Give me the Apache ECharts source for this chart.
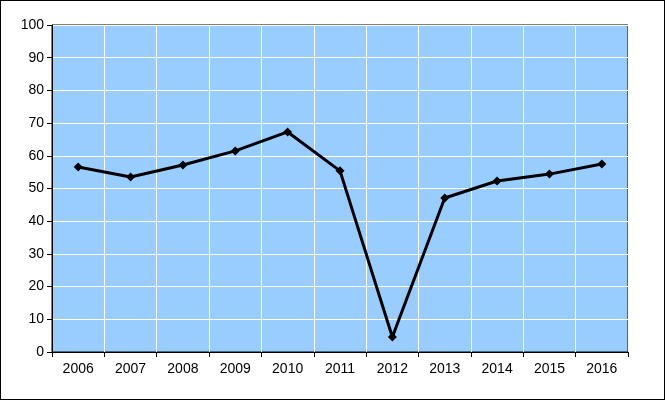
<!DOCTYPE html>
<html><head><meta charset="utf-8">
<script src="https://cdn.jsdelivr.net/npm/echarts@6/dist/echarts.min.js"></script>
<style>html,body{margin:0;padding:0;background:#fff}#c{width:665px;height:400px;box-sizing:border-box;border:1px solid #000}</style>
</head><body><div id="c"></div>
<script>
const years=['2006','2007','2008','2009','2010','2011','2012','2013','2014','2015','2016'];
const values=[56.6,53.5,57.2,61.5,67.3,55.4,4.6,47.1,52.3,54.4,57.5];
const chart=echarts.init(document.getElementById('c'),null,{width:663,height:398});
const font={fontFamily:'Liberation Sans, Arial, sans-serif',fontSize:14,color:'#000'};
chart.setOption({
 animation:false,
 grid:{left:51,right:36,top:24,bottom:47,show:true,backgroundColor:'#99CCFF',borderColor:'#000',borderWidth:1},
 xAxis:{type:'category',data:years,boundaryGap:true,
  axisLine:{lineStyle:{color:'#000'}},axisTick:{show:true,length:5,lineStyle:{color:'#000'}},
  axisLabel:Object.assign({margin:10},font),
  splitLine:{show:true,interval:0,lineStyle:{color:'#fff',width:1}}},
 yAxis:{type:'value',min:0,max:100,interval:10,
  axisLine:{show:true,lineStyle:{color:'#000'}},axisTick:{show:true,length:5,lineStyle:{color:'#000'}},
  axisLabel:Object.assign({margin:8},font),
  splitLine:{lineStyle:{color:'#fff',width:1}}},
 series:[{type:'line',data:values,symbol:'diamond',symbolSize:9,
  lineStyle:{color:'#000',width:3},itemStyle:{color:'#000'}}]
});
</script></body></html>
